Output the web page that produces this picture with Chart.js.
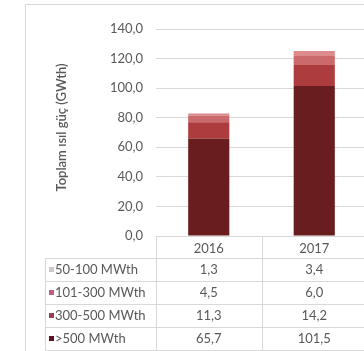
<!DOCTYPE html>
<html>
<head>
<meta charset="utf-8">
<script src="https://cdn.jsdelivr.net/npm/chart.js@4/dist/chart.umd.min.js"></script>
<style>
  html, body { margin: 0; padding: 0; background: #fff; overflow: hidden; width: 364px; height: 351px; }
  #wrap { position: relative; width: 368px; height: 351px; }
</style>
</head>
<body>
<div id="wrap"><canvas id="c"></canvas></div>
<script>
// Installed thermal capacity by plant size class
const years = ['2016', '2017'];
const seriesNames = ['50-100 MWth', '101-300 MWth', '300-500 MWth', '>500 MWth'];
const cap50to100  = [1.3, 3.4];
const cap101to300 = [4.5, 6.0];
const cap300to500 = [11.3, 14.2];
const capOver500  = [65.7, 101.5];
const yAxisTitle = 'Toplam ısıl güç (GWth)';
const yMin = 0, yMax = 140, yStep = 20;

const seriesValues = [cap50to100, cap101to300, cap300to500, capOver500];
const seriesColors = ['#dc8a8c', '#cb6a6c', '#ad3c3f', '#6a1d1f'];
const legendSwatch = ['#cfc7c8', '#c0607a', '#9c3f50', '#5a1422'];

const FONT = 'Lato, "Open Sans", sans-serif';
const TEXT = '#595959';
const LINE = '#d9d9d9';
const fmt = v => v.toFixed(1).replace('.', ',');

// Bottom-up stacking: largest class sits on the axis
const datasets = [3, 2, 1, 0].map(i => ({
  label: seriesNames[i],
  data: seriesValues[i],
  backgroundColor: seriesColors[i],
  borderWidth: 0,
  categoryPercentage: 1,
  barPercentage: 0.39
}));

const ROW_H = 23;
const TABLE_LEFT = 45;

const tablePlugin = {
  id: 'dataTable',
  beforeDraw(chart) {
    const { ctx } = chart;
    ctx.save();
    ctx.strokeStyle = LINE;
    ctx.lineWidth = 1;
    ctx.beginPath();
    ctx.moveTo(25.5, chart.height);
    ctx.lineTo(25.5, 4.5);
    ctx.lineTo(chart.width, 4.5);
    ctx.stroke();
    ctx.restore();
  },
  afterDraw(chart) {
    const { ctx, chartArea } = chart;
    const xs = chart.scales.x;
    const ys = chart.scales.y;
    const top = xs.bottom;
    const bottom = top + ROW_H * seriesNames.length;
    const n = years.length;
    const centers = years.map((_, i) => xs.getPixelForValue(i));
    const step = n > 1 ? centers[1] - centers[0] : chartArea.width;
    const bounds = [centers[0] - step / 2];
    centers.forEach(c => bounds.push(c + step / 2));

    ctx.save();
    ctx.strokeStyle = LINE;
    ctx.lineWidth = 1;
    ctx.beginPath();
    bounds.forEach(b => {
      const x = Math.round(b) + 0.5;
      ctx.moveTo(x, ys.getPixelForValue(0));
      ctx.lineTo(x, bottom);
    });
    ctx.moveTo(TABLE_LEFT + 0.5, top);
    ctx.lineTo(TABLE_LEFT + 0.5, bottom);
    for (let r = 0; r <= seriesNames.length; r++) {
      const y = Math.round(top + r * ROW_H) + 0.5;
      ctx.moveTo(TABLE_LEFT, y);
      ctx.lineTo(chartArea.right, y);
    }
    ctx.stroke();

    ctx.font = '13px ' + FONT;
    ctx.fillStyle = TEXT;
    ctx.textBaseline = 'middle';
    seriesNames.forEach((name, r) => {
      const cy = top + r * ROW_H + ROW_H / 2;
      ctx.fillStyle = legendSwatch[r];
      ctx.fillRect(TABLE_LEFT + 4, cy - 2.5, 5, 5);
      ctx.fillStyle = TEXT;
      ctx.textAlign = 'left';
      ctx.fillText(name, TABLE_LEFT + 10, cy);
      ctx.textAlign = 'center';
      seriesValues[r].forEach((v, i) => ctx.fillText(fmt(v), centers[i], cy));
    });

    // vertical axis title
    ctx.translate(62, (chartArea.top + chartArea.bottom) / 2 - 5);
    ctx.rotate(-Math.PI / 2);
    ctx.font = '600 13px ' + FONT;
    ctx.textAlign = 'center';
    ctx.fillStyle = TEXT;
    ctx.fillText(yAxisTitle, 0, 0);
    ctx.restore();
  }
};

new Chart(document.getElementById('c'), {
  type: 'bar',
  data: { labels: years, datasets },
  plugins: [tablePlugin],
  options: {
    responsive: true,
    maintainAspectRatio: false,
    animation: false,
    layout: { padding: { left: 26, right: 1, top: 29, bottom: 93 } },
    plugins: { legend: { display: false }, tooltip: { enabled: false } },
    scales: {
      x: {
        stacked: true,
        grid: { display: false, drawTicks: false },
        border: { display: false },
        ticks: { color: TEXT, font: { family: FONT, size: 13 }, padding: 5, maxRotation: 0 },
        afterFit(s) { s.height = 22; }
      },
      y: {
        stacked: true,
        min: yMin,
        max: yMax,
        grid: { color: LINE, drawTicks: false },
        border: { display: false },
        ticks: { stepSize: yStep, color: TEXT, font: { family: FONT, size: 13 }, padding: 13, callback: v => fmt(v) },
        afterFit(s) { s.width = 130; }
      }
    }
  }
});
</script>
</body>
</html>
